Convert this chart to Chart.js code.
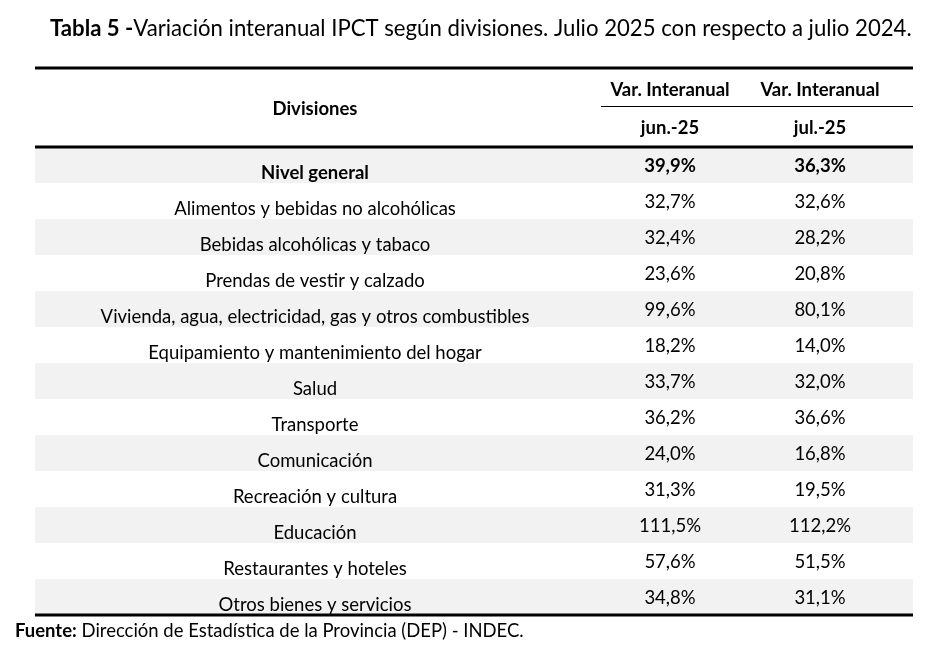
<!DOCTYPE html>
<html>
<head>
<meta charset="utf-8">
<script src="https://cdn.jsdelivr.net/npm/chart.js@4/dist/chart.umd.min.js"></script>
<style>
  html, body { margin: 0; padding: 0; background: #fff; }
  #wrap { width: 927px; height: 646px; }
</style>
</head>
<body>
<div id="wrap"><canvas id="tabla"></canvas></div>
<script>
const divisiones = [
    'Nivel general',
    'Alimentos y bebidas no alcohólicas',
    'Bebidas alcohólicas y tabaco',
    'Prendas de vestir y calzado',
    'Vivienda, agua, electricidad, gas y otros combustibles',
    'Equipamiento y mantenimiento del hogar',
    'Salud',
    'Transporte',
    'Comunicación',
    'Recreación y cultura',
    'Educación',
    'Restaurantes y hoteles',
    'Otros bienes y servicios'
];
const columnas = ['jun.-25', 'jul.-25'];
const encabezado = 'Var. Interanual';
const varJun25 = [39.9, 32.7, 32.4, 23.6, 99.6, 18.2, 33.7, 36.2, 24.0, 31.3, 111.5, 57.6, 34.8];
const varJul25 = [36.3, 32.6, 28.2, 20.8, 80.1, 14.0, 32.0, 36.6, 16.8, 19.5, 112.2, 51.5, 31.1];
const titulo = ['Tabla 5 -', 'Variación interanual IPCT según divisiones. Julio 2025 con respecto a julio 2024.'];
const fuente = ['Fuente:', ' Dirección de Estadística de la Provincia (DEP) - INDEC.'];

const FONT = 'Lato';
const SIZE = 18.5;
const fmt = v => v.toFixed(1).replace('.', ',') + '%';

// dibuja texto en dos partes (negrita + normal) ajustado a un ancho
function textoMixto(ctx, partes, x, y, ancho, size) {
    ctx.font = `bold ${size}px ${FONT}`;
    let w1 = ctx.measureText(partes[0]).width;
    ctx.font = `${size}px ${FONT}`;
    let w2 = ctx.measureText(partes[1]).width;
    const s = size * ancho / (w1 + w2);
    ctx.font = `bold ${s}px ${FONT}`;
    w1 = ctx.measureText(partes[0]).width;
    ctx.textAlign = 'left';
    ctx.textBaseline = 'middle';
    ctx.fillText(partes[0], x, y);
    ctx.font = `${s}px ${FONT}`;
    ctx.fillText(partes[1], x + w1, y);
}

const tablaPlugin = {
    id: 'tabla',
    // el sombreado va antes de los ejes para no tapar las etiquetas
    beforeDraw(chart) {
        const { ctx } = chart;
        const ys = chart.scales.y;
        const izq = ys.left, der = chart.width - 14;
        const h = (ys.bottom - ys.top) / divisiones.length;
        ctx.save();
        ctx.fillStyle = '#f2f2f2';
        divisiones.forEach((d, i) => {
            if (i % 2) return;
            const cy = ys.getPixelForValue(i);
            ctx.fillRect(izq, cy - h / 2, der - izq, h);
        });
        ctx.restore();
    },
    afterDatasetsDraw(chart) {
        const { ctx } = chart;
        const xs = chart.scales.x, ys = chart.scales.y;
        const izq = ys.left, der = chart.width - 14;
        ctx.save();
        ctx.fillStyle = '#000';
        ctx.textAlign = 'center';
        ctx.textBaseline = 'middle';
        chart.data.datasets.forEach((ds, di) => {
            chart.getDatasetMeta(di).data.forEach((pt, i) => {
                ctx.font = `${i === 0 ? 'bold ' : ''}${SIZE}px ${FONT}`;
                ctx.fillText(fmt(ds.data[i].v), pt.x, pt.y + 1);
            });
        });
        // lineas de la tabla
        ctx.strokeStyle = '#000';
        ctx.lineWidth = 3;
        [xs.top, ys.top, ys.bottom].forEach(y => {
            ctx.beginPath();
            ctx.moveTo(izq, y);
            ctx.lineTo(der, y);
            ctx.stroke();
        });
        ctx.lineWidth = 1;
        ctx.beginPath();
        ctx.moveTo(xs.left + 6, ys.top - 40.5);
        ctx.lineTo(der, ys.top - 40.5);
        ctx.stroke();
        // encabezado de la primera columna
        ctx.font = `bold ${SIZE}px ${FONT}`;
        ctx.fillText('Divisiones', (ys.left + ys.right) / 2, (xs.top + ys.top) / 2 + 2);
        ctx.restore();
    },
    afterDraw(chart) {
        const { ctx } = chart;
        ctx.save();
        ctx.fillStyle = '#000';
        textoMixto(ctx, titulo, 50, 29, 862, 20);
        textoMixto(ctx, fuente, 15, 631, 509, 16);
        ctx.restore();
    }
};

const serie = (vals, col) => vals.map((v, i) => ({ x: col, y: divisiones[i], v }));

new Chart(document.getElementById('tabla'), {
    type: 'scatter',
    data: {
        datasets: [
            { label: columnas[0], data: serie(varJun25, columnas[0]), pointRadius: 0, pointHoverRadius: 0 },
            { label: columnas[1], data: serie(varJul25, columnas[1]), pointRadius: 0, pointHoverRadius: 0 }
        ]
    },
    options: {
        responsive: true,
        maintainAspectRatio: false,
        animation: false,
        events: [],
        layout: { padding: { left: 35, right: 32, top: 68, bottom: 31 } },
        plugins: {
            legend: { display: false },
            tooltip: { enabled: false }
        },
        scales: {
            x: {
                type: 'category',
                labels: columnas,
                offset: true,
                position: 'top',
                grid: { display: false, drawTicks: false },
                border: { display: false },
                ticks: {
                    color: '#000',
                    padding: 0,
                    font: { family: FONT, size: SIZE, weight: 'bold', lineHeight: 38 / SIZE },
                    callback: (v, i) => [encabezado, columnas[i]]
                },
                afterFit(s) { s.height = 79; }
            },
            y: {
                type: 'category',
                labels: divisiones,
                offset: true,
                position: 'left',
                grid: { display: false, drawTicks: false },
                border: { display: false },
                ticks: {
                    autoSkip: false,
                    crossAlign: 'center',
                    padding: 64,
                    labelOffset: 8,
                    color: '#000',
                    font: c => ({ family: FONT, size: SIZE, weight: c.index === 0 ? 'bold' : 'normal' })
                },
                afterFit(s) {
                    s.width = 560;
                    const w = s._getLabelSizes().widest.width;
                    s.options.ticks.padding = (560 - w) / 2;
                    s.paddingTop = 0;
                    s.paddingBottom = 0;
                }
            }
        }
    },
    plugins: [tablaPlugin]
});
</script>
</body>
</html>
